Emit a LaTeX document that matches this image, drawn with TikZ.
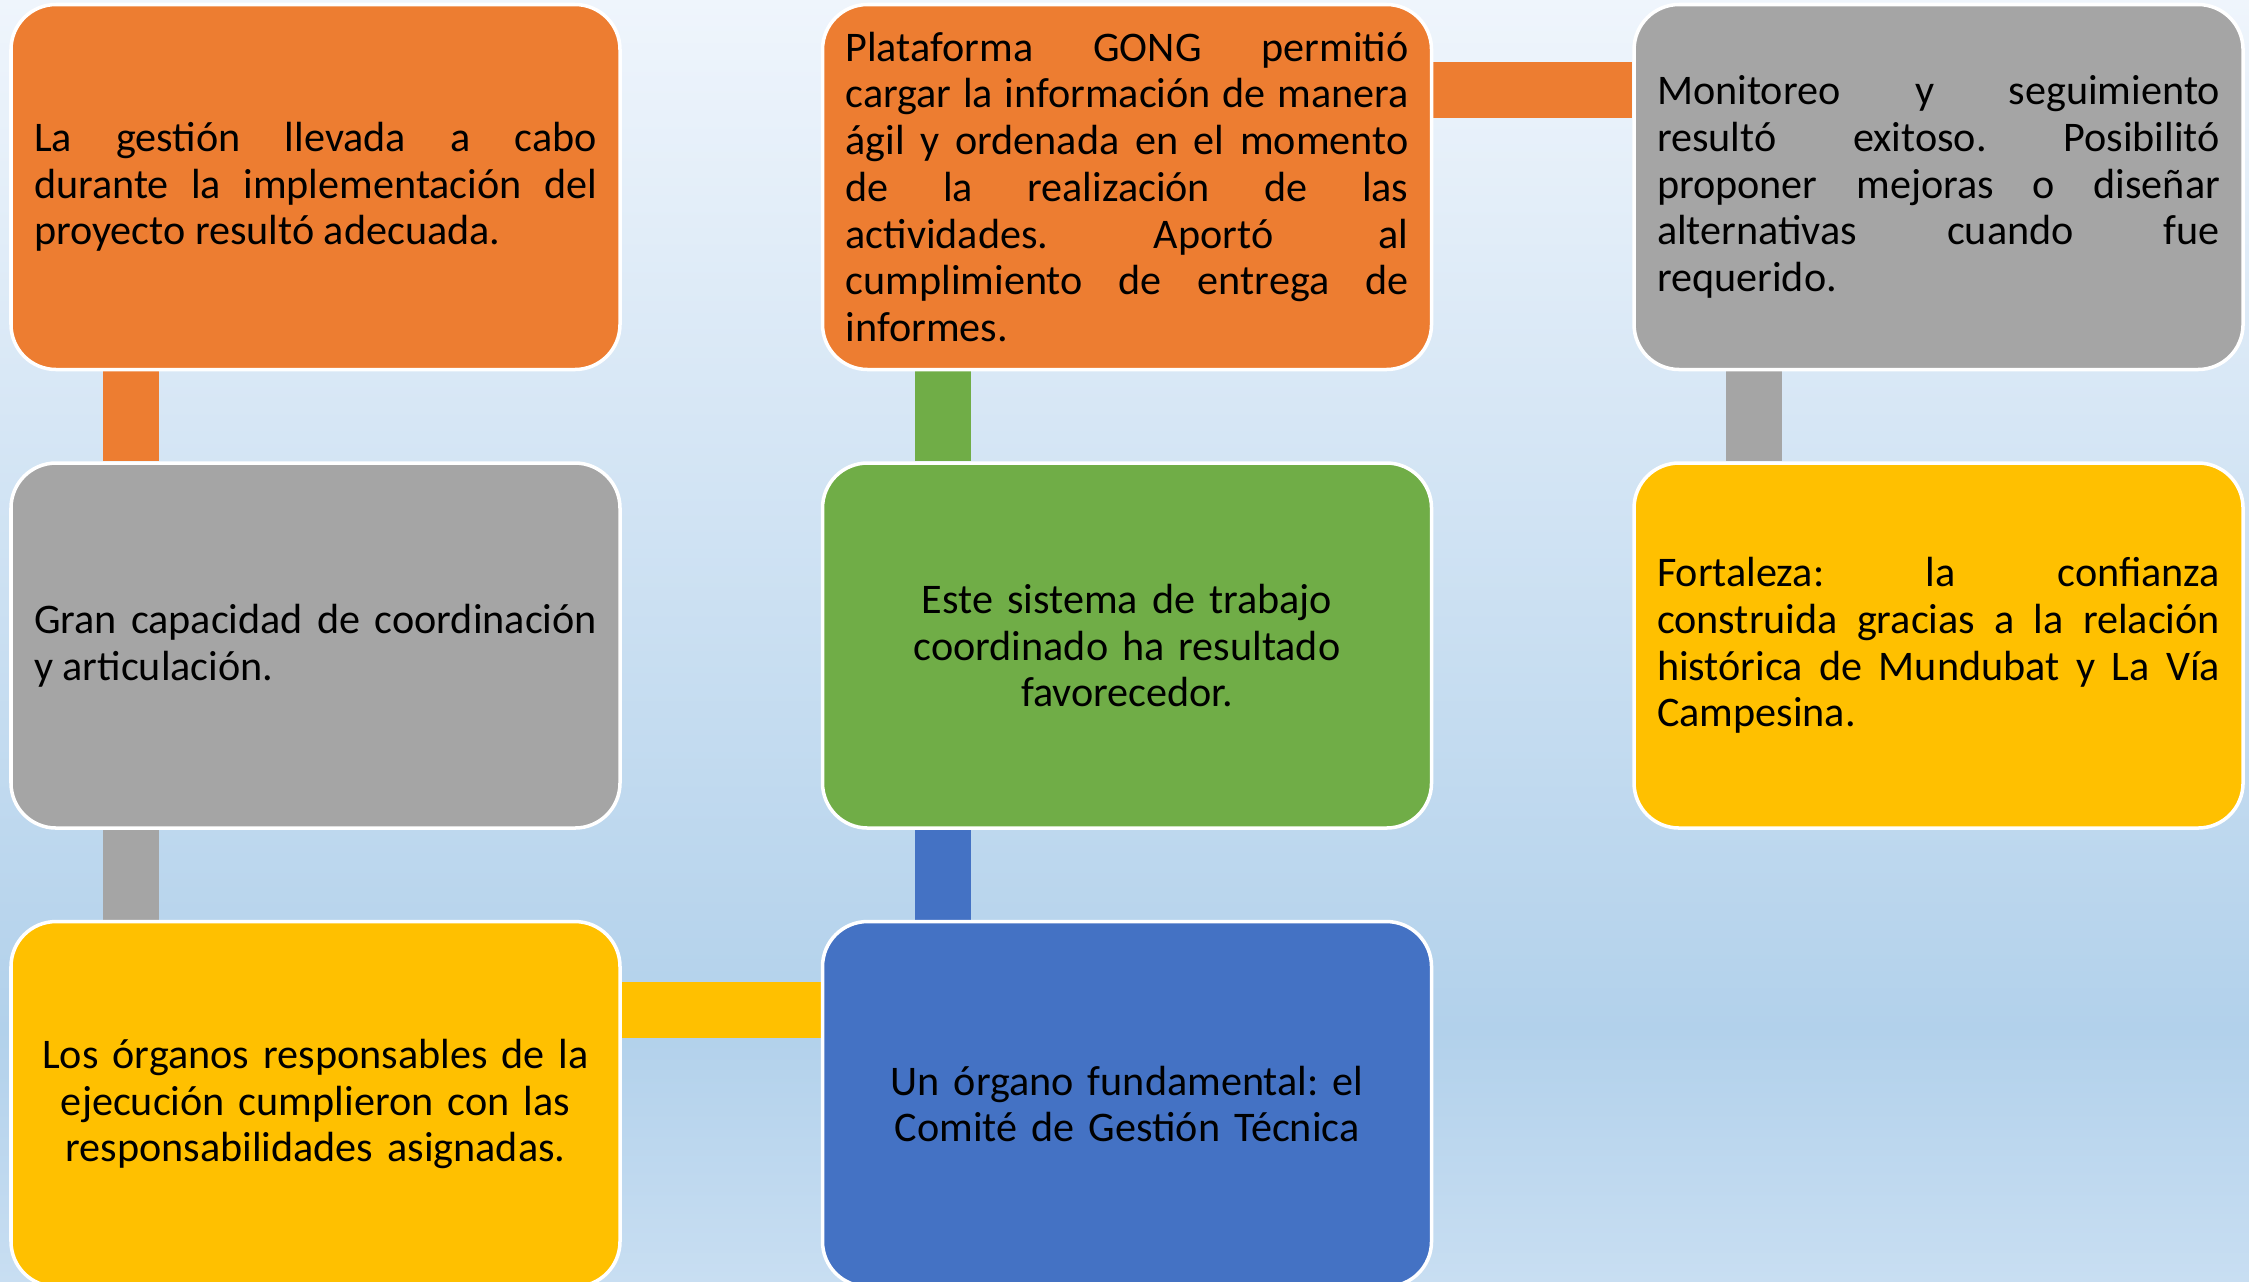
\documentclass[tikz,border=0pt]{standalone}
\usepackage{fontspec}
\setmainfont{Carlito}
\usepackage{tikz}
\usetikzlibrary{positioning, backgrounds}
\definecolor{accorange}{HTML}{ED7D31}
\definecolor{accgray}{HTML}{A5A5A5}
\definecolor{accyellow}{HTML}{FFC000}
\definecolor{accblue}{HTML}{4472C4}
\definecolor{accgreen}{HTML}{70AD47}
\definecolor{bgtop}{RGB}{239,245,252}
\definecolor{bgmid}{RGB}{178,209,235}
\definecolor{bgbot}{RGB}{200,222,242}
\frenchspacing

\begin{document}
\begin{tikzpicture}[
        bx/.style={draw=white, line width=1pt, rounded corners=4.5mm, minimum width=6.09cm,
          minimum height=3.65cm, text width=5.63cm, inner xsep=2.3mm,
          font=\fontsize{12}{13.3}\selectfont, align=justify},
        ctr/.style={align=center},
        br/.style={line width=5.6mm},
        node distance=9mm and 19.9mm
      ]
      \useasboundingbox (0,0) rectangle (22.49,-12.81);
      \begin{scope}[on background layer]
        \shade[top color=bgtop, bottom color=bgmid] (0,0) rectangle (22.49,-10.3);
        \shade[top color=bgmid, bottom color=bgbot] (0,-10.3) rectangle (22.49,-12.81);
      \end{scope}
      \node[bx, fill=accorange] (p1) at (3.155,-1.87)
        {La gestión llevada a cabo \linebreak durante la implementación del \linebreak proyecto resultó adecuada.};
      \node[bx, fill=accgray, below=of p1] (p2)
        {Gran capacidad de coordinación \linebreak y articulación.};
      \node[bx, ctr, fill=accyellow, below=of p2] (p3)
        {Los órganos responsables de la\\ ejecución cumplieron con las\\ responsabilidades asignadas.};
      \node[bx, ctr, fill=accblue, right=of p3] (p4)
        {Un órgano fundamental: el\\ Comité de Gestión Técnica};
      \node[bx, ctr, fill=accgreen, above=of p4] (p5)
        {Este sistema de trabajo\\ coordinado ha resultado\\ favorecedor.};
      \node[bx, fill=accorange, above=of p5] (p6)
        {Plataforma GONG permitió \linebreak cargar la información de manera \linebreak ágil y ordenada en el momento \linebreak de la realización de las \linebreak actividades. Aportó al \linebreak cumplimiento de entrega de \linebreak informes.};
      \node[bx, fill=accgray, right=of p6] (p7)
        {Monitoreo y seguimiento \linebreak resultó exitoso. Posibilitó \linebreak proponer mejoras o diseñar \linebreak alternativas cuando fue \linebreak requerido.};
      \node[bx, fill=accyellow, below=of p7] (p8)
        {Fortaleza: la confianza \linebreak construida gracias a la relación \linebreak histórica de Mundubat y La Vía \linebreak Campesina.};
      \begin{scope}[on background layer]
        \foreach \a/\b/\c in {p1/p2/accorange, p2/p3/accgray, p7/p8/accgray} {
          \draw[br, \c] ([xshift=12.2mm]\a.south west) -- ([xshift=12.2mm]\b.north west);
        }
        \foreach \a/\b/\c in {p4/p5/accblue, p5/p6/accgreen} {
          \draw[br, \c] ([xshift=12.2mm]\a.north west) -- ([xshift=12.2mm]\b.south west);
        }
        \draw[br, accyellow] ([yshift=-9mm]p3.north east) -- ([yshift=-9mm]p4.north west);
        \draw[br, accorange] ([yshift=-8.7mm]p6.north east) -- ([yshift=-8.7mm]p7.north west);
      \end{scope}
    \end{tikzpicture}
\end{document}
